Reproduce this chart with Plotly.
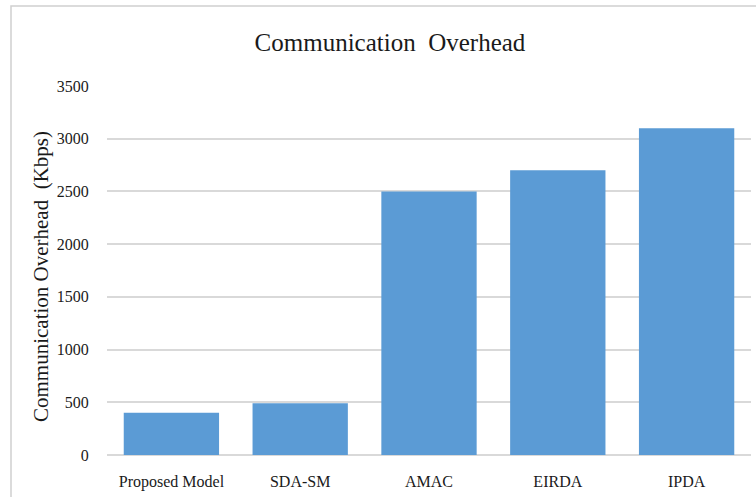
import plotly.graph_objects as go

categories = ["Proposed Model", "SDA-SM", "AMAC", "EIRDA", "IPDA"]
overhead_kbps = [400, 490, 2500, 2700, 3100]
y_ticks = [0, 500, 1000, 1500, 2000, 2500, 3000, 3500]

W, H = 756, 497
L, R, T, B = 107, 5, 86, 42
pw = W - L - R
ph = H - T - B

fig = go.Figure(go.Bar(
    x=categories, y=overhead_kbps,
    marker=dict(color="#5B9BD5", line=dict(width=0)),
))

font = "Liberation Serif, Times New Roman, serif"
fig.update_layout(
    width=W, height=H,
    margin=dict(l=L, r=R, t=T, b=B),
    paper_bgcolor="white", plot_bgcolor="white",
    bargap=0.26,
    showlegend=False,
    title=dict(text="Communication  Overhead", x=(390) / W, xanchor="center",
               y=1 - 42 / H, yanchor="middle",
               font=dict(family=font, size=25, color="#1a1a1a")),
    xaxis=dict(showgrid=False, showline=False, ticks="outside", ticklen=12,
               tickcolor="rgba(0,0,0,0)",
               tickfont=dict(family=font, size=16, color="#1a1a1a")),
    yaxis=dict(range=[0, 3500], tickvals=y_ticks, showgrid=True,
               gridcolor="#d9d9d9", gridwidth=1.5, zeroline=True,
               zerolinecolor="#d9d9d9", zerolinewidth=1.5, showline=False,
               ticks="outside", ticklen=14, tickcolor="rgba(0,0,0,0)",
               tickfont=dict(family=font, size=16, color="#1a1a1a")),
)

# y-axis title placed as annotation to match the original position
fig.add_annotation(text="Communication Overhead  (Kbps)", textangle=-90,
                   xref="paper", yref="paper",
                   x=(41 - L) / pw, y=1 - (277 - T) / ph,
                   xanchor="center", yanchor="middle", showarrow=False,
                   font=dict(family=font, size=21, color="#1a1a1a"))

# outer chart border
fig.add_shape(type="rect", xref="paper", yref="paper",
              x0=(11 - L) / pw, x1=(W + 10 - L) / pw,
              y0=-(B + 10) / ph, y1=1 + (T - 6) / ph,
              line=dict(color="#d0d0d0", width=1.5), layer="below")

fig.write_html("out.html")
